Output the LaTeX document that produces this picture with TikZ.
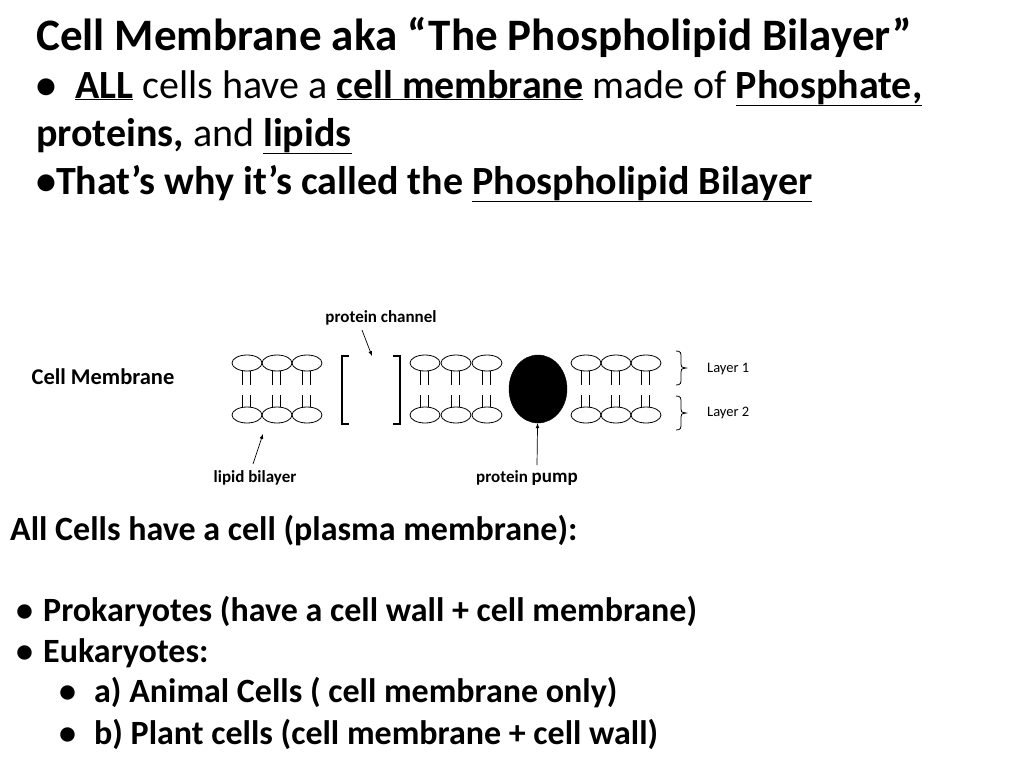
\documentclass[tikz,border=0pt]{standalone}
\usepackage{fontspec}
\usetikzlibrary{shapes.geometric}
\setmainfont{Carlito}
\begin{document}
\begin{tikzpicture}[x=1pt,y=-1pt,
 lip/.style={draw,line width=0.8pt,ellipse,minimum width=30pt,minimum height=16pt,inner sep=0pt},
 lbl/.style={font=\bfseries\fontsize{17}{19}\selectfont,inner sep=0pt},
 big/.style={anchor=base west,inner sep=0pt,font=\bfseries\fontsize{45}{50}\selectfont},
 body/.style={anchor=base west,inner sep=0pt,font=\bfseries\fontsize{40}{44}\selectfont},
 low/.style={anchor=base west,inner sep=0pt,font=\bfseries\fontsize{34}{38}\selectfont},
 arr/.style={-latex,line width=0.7pt}]
\useasboundingbox (0,0) rectangle (1024,768);
\node[big] (t1) at (36,50) {Cell Membrane aka “The Phospholipid Bilayer”};
\node[body] (t2) at (36,98) {\makebox[39pt][l]{•}\underline{ALL}\mdseries{} cells have a \bfseries\underline{cell membrane}\mdseries{} made of \bfseries\underline{Phosphate,}};
\node[body] (t3) at (36,146) {proteins,\mdseries{} and \bfseries\underline{lipids}};
\node[body] (t4) at (36,194) {•That’s why it’s called the \underline{Phospholipid Bilayer}};
\node[lbl,font=\bfseries\fontsize{22.5}{24}\selectfont] (cm) at (103,377) {Cell Membrane};
\foreach \x [count=\i] in {247,277,307,425,456,487,586,616,646}{
 \node[lip] (u\i) at (\x,363) {};
 \node[lip] (d\i) at (\x,415) {};
 \draw[line width=0.7pt] (\x-5,371) -- (\x-5,385) (\x+3,371) -- (\x+3,385)
   (\x-5,395) -- (\x-5,407) (\x+3,395) -- (\x+3,407);
}
\draw[line width=2pt] (349,356) -- (342,356) -- (342,424) -- (349,424);
\draw[line width=2pt] (393,356) -- (400,356) -- (400,424) -- (393,424);
\node[draw,fill=black,ellipse,minimum width=58pt,minimum height=68pt,inner sep=0pt] (pump) at (538,389) {};
\draw[line width=0.8pt] (676,351) .. controls (681,351) and (681,353) .. (681,358) -- (681,364) .. controls (681,367) .. (686,368) .. controls (681,369) .. (681,372) -- (681,378) .. controls (681,383) and (681,385) .. (676,385);
\draw[line width=0.8pt] (676,396) .. controls (681,396) and (681,398) .. (681,403) -- (681,409) .. controls (681,412) .. (686,413) .. controls (681,414) .. (681,417) -- (681,423) .. controls (681,428) and (681,430) .. (676,430);
\node[inner sep=0pt,anchor=west,font=\fontsize{14.5}{16}\selectfont] (l1) at (707,369) {Layer 1};
\node[inner sep=0pt,anchor=west,font=\fontsize{14.5}{16}\selectfont] (l2) at (707,413) {Layer 2};
\node[lbl] (pc) at (381,318) {protein channel};
\coordinate (pct) at (372,356);
\draw[arr] (362,330) -- (pct);
\node[lbl] (lb) at (255,478) {lipid bilayer};
\draw[arr] (253,464) -- (263,434);
\node[lbl] (pp) at (527,478) {protein \fontsize{19}{21}\selectfont pump};
\draw[arr] (537,465) -- (pump);
\node[low] (b0) at (10,540) {All Cells have a cell (plasma membrane):};
\node[low] (b1) at (16,621) {\makebox[27pt][l]{•}Prokaryotes (have a cell wall + cell membrane)};
\node[low] (b2) at (16,662) {\makebox[27pt][l]{•}Eukaryotes:};
\node[low] (b3) at (59,702) {\makebox[35pt][l]{•}a) Animal Cells ( cell membrane only)};
\node[low] (b4) at (59,744) {\makebox[35pt][l]{•}b) Plant cells (cell membrane + cell wall)};
\end{tikzpicture}
\end{document}
